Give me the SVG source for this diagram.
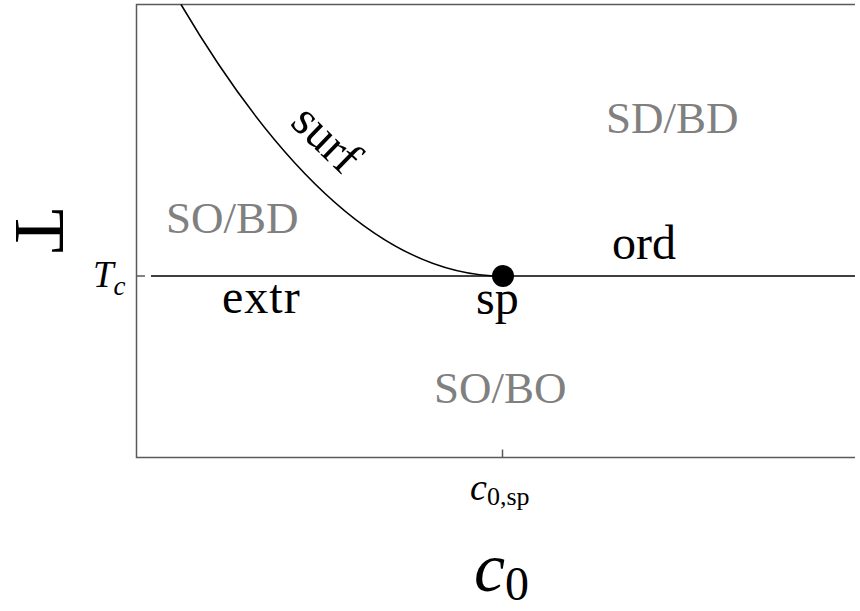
<svg xmlns="http://www.w3.org/2000/svg" width="860" height="611" viewBox="0 0 860 611">
<style>
.reg{fill:#808080;font-size:45px}
.lab{fill:#000;font-size:48px}
.frame{fill:none;stroke:#5a5a5a;stroke-width:1.5}
.ln{fill:none;stroke:#000;stroke-width:1.5}
</style>
<rect width="860" height="611" fill="#fff"/>
<g id="frame">
<path class="frame" d="M855,4.5 H136.5 V457.5 H855"/>
<path class="frame" d="M502.5,457.5 V449.5"/>
<path class="frame" d="M136.5,276 H145"/>
</g>
<g id="connectors">
<path id="ord-line" class="ln" d="M151,276 H855"/>
<path id="surf-curve" class="ln" stroke-width="1.3" d="M181,4.5 Q341.5,276 502,276"/>
</g>
<g id="sp-node"><circle cx="503" cy="276" r="11" fill="#000"/></g>
<g id="labels" font-family="Liberation Serif, DejaVu Serif, Times New Roman, serif">
<text class="reg" x="166" y="233">SO/BD</text>
<text class="reg" x="606" y="133">SD/BD</text>
<text class="reg" x="434" y="403">SO/BO</text>
<text class="lab" x="612" y="259">ord</text>
<text class="lab" x="222" y="313" letter-spacing="1">extr</text>
<text class="lab" x="476" y="314">sp</text>
<text class="lab" font-size="48" transform="translate(289,124) rotate(44)">surf</text>
</g>
<g id="axes-labels" font-family="Liberation Serif, DejaVu Serif, Times New Roman, serif">
<text font-size="37" x="93" y="287" font-style="italic">T<tspan font-size="27" dy="8">c</tspan></text>
<text font-size="38" x="470" y="500" font-style="italic">c<tspan font-size="26" font-style="normal" dy="5">0,sp</tspan></text>
<text font-size="70" x="474" y="591" font-style="italic">c<tspan font-size="48" font-style="normal" dy="9">0</tspan></text>
<text font-size="72" text-anchor="middle" transform="translate(16,231) rotate(90)">T</text>
</g>
</svg>
